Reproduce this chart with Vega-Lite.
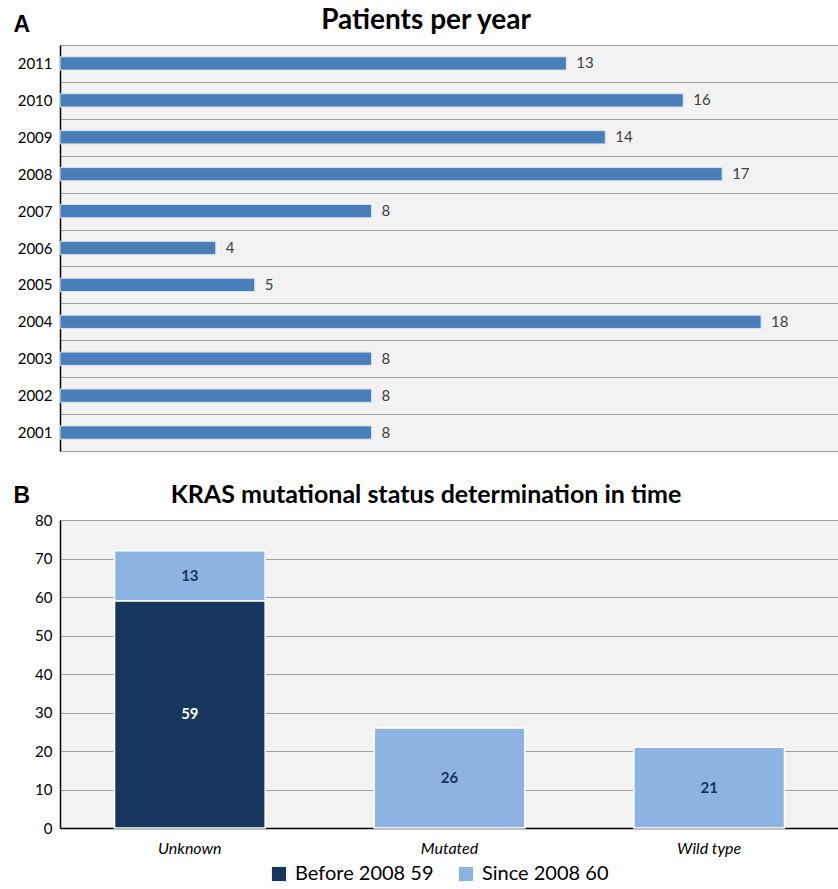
{
  "$schema": "https://vega.github.io/schema/vega-lite/v6.json",
  "padding": {"left": 12, "top": 6, "right": 0, "bottom": 0},
  "background": "white",
  "spacing": 30,
  "config": {
    "font": "Lato",
    "view": {"fill": "#f2f2f2", "stroke": "#a6a6a6", "strokeWidth": 1},
    "title": {"fontWeight": "bold", "color": "#000000", "font": "Lato", "anchor": "middle", "frame": "bounds"}
  },
  "vconcat": [
    {
      "width": 779,
      "height": 406,
      "title": {"text": "Patients per year", "offset": -22, "fontSize": 28},
      "data": {"values": [
        {"year": "2011", "patients": 13},
        {"year": "2010", "patients": 16},
        {"year": "2009", "patients": 14},
        {"year": "2008", "patients": 17},
        {"year": "2007", "patients": 8},
        {"year": "2006", "patients": 4},
        {"year": "2005", "patients": 5},
        {"year": "2004", "patients": 18},
        {"year": "2003", "patients": 8},
        {"year": "2002", "patients": 8},
        {"year": "2001", "patients": 8}
      ]},
      "encoding": {
        "y": {
          "field": "year", "type": "ordinal", "sort": "descending",
          "scale": {"paddingInner": 0, "paddingOuter": 0},
          "axis": {
            "title": "A", "titleAngle": 0, "titleX": -47, "titleY": -14, "titleAlign": "left", "titleBaseline": "alphabetic",
            "titleFont": "Liberation Sans", "titleFontSize": 23, "titleFontWeight": "bold", "titleColor": "#000000",
            "labelFontSize": 15, "labelColor": "#000000", "labelPadding": 8, "labelFont": "Lato",
            "domainColor": "#000000", "domainWidth": 1.5, "ticks": false,
            "grid": true, "tickBand": "extent", "gridColor": "#a0a0a0", "gridWidth": 1
          }
        },
        "x": {"field": "patients", "type": "quantitative", "scale": {"domain": [0, 20]}, "axis": null}
      },
      "layer": [
        {"mark": {"type": "bar", "color": "#4a7ebb", "height": {"band": 0.36}, "stroke": "#d9e3ef", "strokeWidth": 1}},
        {"mark": {"type": "text", "align": "left", "dx": 10, "fontSize": 15, "color": "#404040", "font": "Lato"},
         "encoding": {"text": {"field": "patients", "type": "quantitative"}}}
      ]
    },
    {
      "width": 779,
      "height": 308,
      "title": {"text": "KRAS mutational status  determination in time", "offset": -24, "fontSize": 25},
      "data": {"values": [
        {"status": "Unknown", "period": "Before 2008 59", "n": 59},
        {"status": "Unknown", "period": "Since 2008 60", "n": 13},
        {"status": "Mutated", "period": "Since 2008 60", "n": 26},
        {"status": "Wild type", "period": "Since 2008 60", "n": 21}
      ]},
      "encoding": {
        "x": {
          "field": "status", "type": "nominal", "sort": ["Unknown", "Mutated", "Wild type"],
          "scale": {"paddingInner": 0, "paddingOuter": 0},
          "axis": {"title": null, "labelAngle": 0, "labelFontStyle": "italic", "labelFontSize": 16, "labelColor": "#000000",
                   "labelPadding": 12, "ticks": false, "domainColor": "#000000", "domainWidth": 1.5, "labelFont": "Lato"}
        },
        "y": {
          "field": "n", "type": "quantitative", "stack": "zero",
          "scale": {"domain": [0, 80]},
          "axis": {
            "values": [0, 10, 20, 30, 40, 50, 60, 70, 80],
            "title": "B", "titleAngle": 0, "titleX": -47, "titleY": -18, "titleAlign": "left", "titleBaseline": "alphabetic",
            "titleFont": "Liberation Sans", "titleFontSize": 23, "titleFontWeight": "bold", "titleColor": "#000000",
            "labelFontSize": 15, "labelColor": "#000000", "labelPadding": 8, "labelFont": "Lato",
            "domainColor": "#000000", "domainWidth": 1.5, "ticks": false,
            "grid": true, "gridColor": "#a0a0a0", "gridWidth": 1
          }
        },
        "order": {"field": "period", "type": "ordinal", "sort": "ascending"}
      },
      "layer": [
        {
          "mark": {"type": "bar", "width": {"band": 0.58}, "stroke": "#ffffff", "strokeWidth": 1.5},
          "encoding": {
            "color": {
              "field": "period", "type": "nominal",
              "scale": {"domain": ["Before 2008 59", "Since 2008 60"], "range": ["#17365d", "#8db3e2"]},
              "legend": {"orient": "none", "legendX": 209, "legendY": 819, "direction": "horizontal", "title": null, "symbolType": "square",
                         "symbolSize": 200, "symbolStrokeWidth": 0, "labelFontSize": 20, "labelFont": "Lato", "labelColor": "#000000",
                         "columnPadding": 22, "labelOffset": 6}
            }
          }
        },
        {
          "mark": {"type": "text", "fontSize": 15, "fontWeight": "bold", "font": "Lato", "baseline": "middle"},
          "encoding": {
            "y": {"field": "n", "type": "quantitative", "stack": "zero", "bandPosition": 0.5},
            "text": {"field": "n", "type": "quantitative"},
            "color": {"condition": {"test": "datum.period === 'Before 2008 59'", "value": "#ffffff"}, "value": "#17365d"}
          }
        }
      ]
    }
  ]
}
